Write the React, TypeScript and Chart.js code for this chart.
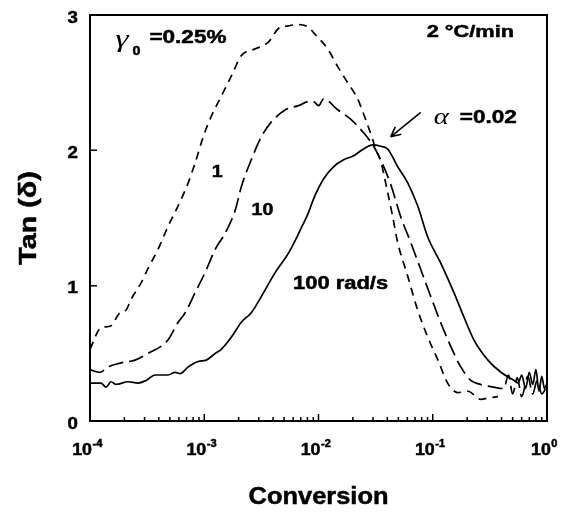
import React, { useEffect, useRef } from "react";
import { Chart, registerables } from "chart.js";

Chart.register(...registerables);

// ---- Data (x = conversion, y = tan δ) ----
const X_1 = [1.0e-4, 1.25e-4, 1.5e-4, 1.83e-4, 2.07e-4, 2.29e-4, 2.8e-4, 3.23e-4, 3.95e-4, 4.83e-4, 5.68e-4, 7.24e-4, 8.34e-4, 9.8e-4, 1.15e-3, 1.41e-3, 1.73e-3, 2.11e-3, 2.8e-3, 3.64e-3, 4.46e-3, 5.46e-3, 6.68e-3, 8.17e-3, 9.04e-3, 1.2e-2, 1.47e-2, 1.8e-2, 2.2e-2, 2.58e-2, 2.98e-2, 3.16e-2, 3.5e-2, 4.03e-2, 4.46e-2, 4.93e-2, 6.04e-2, 7.38e-2, 9.04e-2, 0.111, 0.135, 0.166, 0.203, 0.264, 0.304, 0.372];
const Y_1 = [0.53, 0.69, 0.7, 0.8, 0.82, 0.9, 1.02, 1.13, 1.27, 1.44, 1.56, 1.76, 1.91, 2.1, 2.25, 2.4, 2.55, 2.7, 2.75, 2.8, 2.9, 2.92, 2.93, 2.91, 2.87, 2.75, 2.62, 2.5, 2.38, 2.23, 2.08, 2.01, 1.92, 1.69, 1.51, 1.32, 1.07, 0.82, 0.62, 0.45, 0.28, 0.21, 0.22, 0.16, 0.17, 0.18];

const X_10 = [1.0e-4, 1.22e-4, 1.44e-4, 1.87e-4, 2.48e-4, 3.23e-4, 4.83e-4, 5.91e-4, 6.81e-4, 8.34e-4, 1.02e-3, 1.25e-3, 1.53e-3, 1.87e-3, 2.11e-3, 2.58e-3, 3.16e-3, 3.87e-3, 5.14e-3, 6.68e-3, 8.17e-3, 9.04e-3, 1.0e-2, 1.11e-2, 1.47e-2, 1.91e-2, 2.48e-2, 3.04e-2, 3.5e-2, 4.28e-2, 5.24e-2, 6.41e-2, 7.85e-2, 9.6e-2, 0.117, 0.144, 0.176, 0.215, 0.264, 0.343, 0.419, 0.46, 0.5, 0.55, 0.6, 0.68, 0.75, 0.82, 0.9, 1.0];
const Y_10 = [0.38, 0.36, 0.4, 0.43, 0.45, 0.5, 0.6, 0.73, 0.8, 0.95, 1.1, 1.27, 1.39, 1.56, 1.73, 1.93, 2.1, 2.21, 2.3, 2.33, 2.36, 2.36, 2.33, 2.38, 2.3, 2.23, 2.13, 2.03, 1.93, 1.75, 1.51, 1.32, 1.12, 0.92, 0.73, 0.55, 0.4, 0.3, 0.27, 0.25, 0.24, 0.34, 0.2, 0.32, 0.18, 0.33, 0.2, 0.3, 0.2, 0.26];

const X_100 = [1.0e-4, 1.25e-4, 1.38e-4, 1.53e-4, 1.69e-4, 2.15e-4, 2.64e-4, 3.1e-4, 3.72e-4, 4.83e-4, 5.57e-4, 6.16e-4, 7.24e-4, 8.86e-4, 1.04e-3, 1.25e-3, 1.41e-3, 1.73e-3, 2.11e-3, 2.58e-3, 3.16e-3, 4.2e-3, 5.46e-3, 7.1e-3, 8.17e-3, 9.04e-3, 1.11e-2, 1.36e-2, 1.66e-2, 2.03e-2, 2.48e-2, 2.98e-2, 3.5e-2, 4.03e-2, 4.93e-2, 6.04e-2, 7.38e-2, 9.04e-2, 0.117, 0.153, 0.187, 0.229, 0.304, 0.395, 0.514, 0.56, 0.6, 0.65, 0.7, 0.75, 0.8, 0.85, 0.9, 0.95, 1.0];
const Y_100 = [0.28, 0.28, 0.25, 0.29, 0.27, 0.29, 0.28, 0.3, 0.34, 0.34, 0.36, 0.35, 0.4, 0.44, 0.45, 0.5, 0.53, 0.62, 0.73, 0.8, 0.92, 1.1, 1.24, 1.43, 1.54, 1.64, 1.79, 1.88, 1.93, 1.96, 2.01, 2.04, 2.03, 2.01, 1.88, 1.76, 1.59, 1.36, 1.17, 0.95, 0.77, 0.6, 0.45, 0.36, 0.3, 0.28, 0.34, 0.24, 0.36, 0.27, 0.38, 0.22, 0.33, 0.24, 0.28];

const X_DECADES = [1e-4, 1e-3, 1e-2, 1e-1, 1];
const X_EXPONENTS = ["-4", "-3", "-2", "-1", "0"];
const Y_TICKS = [0, 1, 2, 3];
const SERIES_LABELS = ["1", "10", "100 rad/s"];

const FONT = '"Liberation Sans", Arial, sans-serif';
const SERIF = '"Liberation Serif", "DejaVu Serif", serif';

function drawText(
  ctx: CanvasRenderingContext2D,
  s: string,
  x: number,
  y: number,
  font: string,
  align: "left" | "center" | "right",
  sx: number,
  heavy = true
): number {
  ctx.save();
  ctx.font = font;
  ctx.textBaseline = "middle";
  ctx.textAlign = "left";
  const w = ctx.measureText(s).width * sx;
  let left = x;
  if (align === "center") left = x - w / 2;
  if (align === "right") left = x - w;
  ctx.translate(left, y);
  ctx.scale(sx, 1);
  ctx.fillStyle = "#000";
  ctx.fillText(s, 0, 0);
  if (heavy) {
    ctx.strokeStyle = "#000";
    ctx.lineWidth = 0.5;
    ctx.strokeText(s, 0, 0);
  }
  ctx.restore();
  return w;
}

const decorPlugin = {
  id: "decor",
  afterDatasetsDraw(chart: any) {
    const ctx: CanvasRenderingContext2D = chart.ctx;
    const { left, right, top, bottom } = chart.chartArea;
    const xs = chart.scales.x;
    const ys = chart.scales.y;
    const px = (v: number) => xs.getPixelForValue(v);
    const py = (v: number) => ys.getPixelForValue(v);

    ctx.save();
    ctx.strokeStyle = "#000";
    ctx.fillStyle = "#000";

    // frame
    ctx.lineWidth = 2;
    ctx.strokeRect(left, top, right - left, bottom - top);

    // x tick marks (inward)
    ctx.lineWidth = 1.5;
    ctx.beginPath();
    for (let k = 0; k < X_DECADES.length; k++) {
      const d = X_DECADES[k];
      const p = px(d);
      ctx.moveTo(p, bottom);
      ctx.lineTo(p, bottom - 7);
      if (k < X_DECADES.length - 1) {
        for (let m = 2; m <= 9; m++) {
          const q = px(d * m);
          ctx.moveTo(q, bottom);
          ctx.lineTo(q, bottom - 4);
        }
      }
    }
    // y tick marks
    for (const t of Y_TICKS) {
      const p = py(t);
      ctx.moveTo(left, p);
      ctx.lineTo(left + 7, p);
    }
    ctx.stroke();

    // y tick labels
    for (const t of Y_TICKS) {
      drawText(ctx, String(t), left - 12, py(t) + 3, `bold 17px ${FONT}`, "right", 1.1);
    }

    // x tick labels 10^n
    for (let k = 0; k < X_DECADES.length; k++) {
      const p = px(X_DECADES[k]) - 3;
      ctx.font = `bold 17px ${FONT}`;
      const wb = ctx.measureText("10").width * 1.05;
      ctx.font = `bold 10px ${FONT}`;
      const we = ctx.measureText(X_EXPONENTS[k]).width * 1.1;
      const start = p - (wb + we) / 2;
      drawText(ctx, "10", start, bottom + 29, `bold 17px ${FONT}`, "left", 1.05);
      drawText(ctx, X_EXPONENTS[k], start + wb + 0.5, bottom + 23, `bold 10px ${FONT}`, "left", 1.1);
    }

    // axis titles
    drawText(ctx, "Conversion", (left + right) / 2, 497, `bold 24px ${FONT}`, "center", 1.06);
    ctx.save();
    ctx.translate(30, (top + bottom) / 2);
    ctx.rotate(-Math.PI / 2);
    drawText(ctx, "Tan (\u03b4)", 0, 0, `bold 23px ${FONT}`, "center", 1.25);
    ctx.restore();

    // gamma_0 = 0.25%
    {
      const gx = px(1.66e-4);
      const gy = py(2.83);
      const wg = drawText(ctx, "\u03b3", gx, gy + 2, `italic 26px ${SERIF}`, "left", 1.3, false);
      drawText(ctx, "0", gx + wg + 4, gy + 13, `bold 13px ${FONT}`, "left", 1.1);
      drawText(ctx, "=0.25%", gx + wg + 21, gy, `bold 18px ${FONT}`, "left", 1.25);
    }
    // 2 °C/min
    drawText(ctx, "2 \u00b0C/min", px(0.514), py(2.87), `bold 17px ${FONT}`, "right", 1.28);

    // series labels
    drawText(ctx, SERIES_LABELS[0], px(1.3e-3), py(1.84), `bold 17px ${FONT}`, "center", 1.15);
    drawText(ctx, SERIES_LABELS[1], px(3.23e-3), py(1.56), `bold 17px ${FONT}`, "center", 1.15);
    drawText(ctx, SERIES_LABELS[2], px(1.56e-2), py(1.01), `bold 18px ${FONT}`, "center", 1.22);

    // alpha = 0.02 and arrow
    {
      const ax = px(0.102);
      const ay = py(2.24);
      const wa = drawText(ctx, "\u03b1", ax, ay, `italic 24px ${SERIF}`, "left", 1.2, false);
      drawText(ctx, "=0.02", ax + wa + 11, ay, `bold 18px ${FONT}`, "left", 1.25);

      const x0 = px(7.85e-2), y0 = py(2.28);
      const x1 = px(4.28e-2), y1 = py(2.1);
      ctx.lineWidth = 1.6;
      ctx.beginPath();
      ctx.moveTo(x0, y0);
      ctx.lineTo(x1, y1);
      const ang = Math.atan2(y1 - y0, x1 - x0);
      const hl = 11;
      ctx.moveTo(x1, y1);
      ctx.lineTo(x1 - hl * Math.cos(ang - 0.45), y1 - hl * Math.sin(ang - 0.45));
      ctx.moveTo(x1, y1);
      ctx.lineTo(x1 - hl * Math.cos(ang + 0.45), y1 - hl * Math.sin(ang + 0.45));
      ctx.stroke();
    }
    ctx.restore();
  },
};

function toPoints(xs: number[], ys: number[]) {
  return xs.map((x, i) => ({ x, y: ys[i] }));
}

export default function App() {
  const ref = useRef<HTMLCanvasElement | null>(null);

  useEffect(() => {
    if (!ref.current) return;
    const common = {
      borderColor: "#000",
      borderWidth: 1.7,
      pointRadius: 0,
      fill: false,
      cubicInterpolationMode: "monotone" as const,
    };
    const chart = new Chart(ref.current, {
      type: "line",
      data: {
        datasets: [
          { ...common, label: "1 rad/s", data: toPoints(X_1, Y_1), borderDash: [8, 6] },
          { ...common, label: "10 rad/s", data: toPoints(X_10, Y_10), borderDash: [15, 6] },
          { ...common, label: "100 rad/s", data: toPoints(X_100, Y_100) },
        ],
      },
      options: {
        animation: false,
        responsive: false,
        devicePixelRatio: 1,
        parsing: false,
        layout: { padding: { left: 0, right: 20, top: 15, bottom: 0 } },
        plugins: { legend: { display: false }, tooltip: { enabled: false }, title: { display: false } },
        scales: {
          x: {
            type: "logarithmic",
            min: 1e-4,
            max: 1,
            ticks: { display: false },
            grid: { display: false },
            border: { display: false },
            afterFit: (s: any) => {
              s.height = 94;
            },
          },
          y: {
            type: "linear",
            min: 0,
            max: 3,
            ticks: { display: false },
            grid: { display: false },
            border: { display: false },
            afterFit: (s: any) => {
              s.width = 90;
            },
          },
        },
      },
      plugins: [decorPlugin],
    } as any);
    return () => chart.destroy();
  }, []);

  return (
    <div style={{ position: "absolute", left: 0, top: 0, width: 567, height: 515, background: "#fff" }}>
      <canvas ref={ref} width={567} height={515} style={{ display: "block" }} />
    </div>
  );
}
